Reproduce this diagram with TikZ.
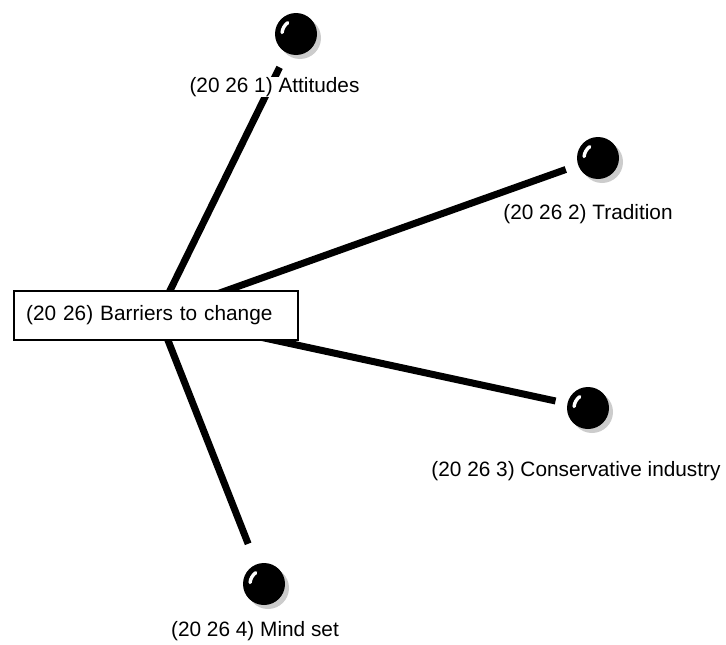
\documentclass[tikz,border=0pt]{standalone}
\usepackage{fontspec}
\setmainfont{Liberation Sans}
\pgfdeclarelayer{spokes}
\pgfsetlayers{spokes,main}
\begin{document}
\begin{tikzpicture}[x=1pt,y=-1pt,
  every node/.style={font=\fontsize{20.8}{25}\selectfont},
  spoke/.style={line width=7pt},
  topicbox/.style={draw, line width=2.4pt, fill=white, anchor=west,
    minimum width=284pt, minimum height=49pt, inner xsep=11pt,
    text width=260pt, align=left},
  leaflabel/.style={fill=white, inner sep=0.6pt},
  ball/.style={circle, fill=black, minimum size=42pt, inner sep=0pt,
    preaction={fill=gray!40, transform canvas={shift={(4pt,-4pt)}}},
    path picture={\draw[white, line width=3.4pt, line cap=round]
      ([shift={(174:14pt)}]path picture bounding box.center)
      arc[start angle=174, end angle=126, radius=14pt];}}
]
\useasboundingbox (0,0) rectangle (726,645);

% hub where all spokes meet, hidden behind the topic box
\coordinate (hub) at (158,315);

% leaf balls
\node[ball] (b1) at (296,34) {};
\node[ball] (b2) at (598,158) {};
\node[ball] (b3) at (588,408) {};
\node[ball] (b4) at (264,584) {};

% spokes from the hub to each leaf, kept underneath everything else
\begin{pgfonlayer}{spokes}
\draw[spoke, shorten >=16pt] (hub) -- (b1);
\draw[spoke, shorten >=13pt] (hub) -- (b2);
\draw[spoke, shorten >=12pt] (hub) -- (b3);
\draw[spoke, shorten >=22pt] (hub) -- (b4);
\end{pgfonlayer}

% leaf labels
\node[leaflabel] (l1) at (274.5,87) {(20 26 1) Attitudes};
\node[leaflabel] (l2) at (588,214) {(20 26 2) Tradition};
\node[leaflabel] (l3) at (576,471) {(20 26 3) Conservative industry};
\node[leaflabel] (l4) at (255,631) {(20 26 4) Mind set};

% central topic
\node[topicbox] (root) at (13,315.5) {(20 26) Barriers to change};
\end{tikzpicture}
\end{document}
